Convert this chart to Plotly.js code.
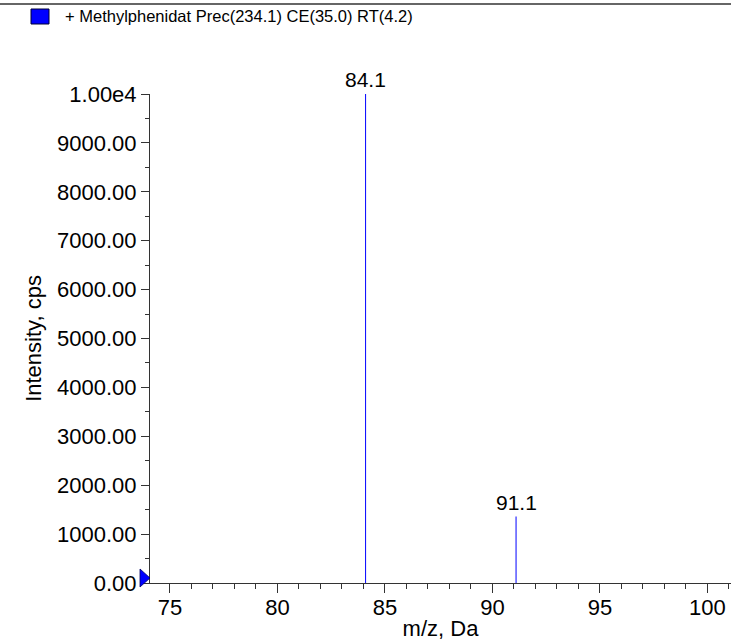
<!DOCTYPE html>
<html>
<head>
<meta charset="utf-8">
<script src="https://cdn.plot.ly/plotly-3.0.1.min.js"></script>
<style>html,body{margin:0;padding:0;background:#fff;}#chart{width:731px;height:641px;}</style>
</head>
<body>
<div id="chart"></div>
<script>
// ---- data ----
var peakMz = [84.1, 91.1];
var peakIntensity = [10000, 1360];
var peakLabels = ['84.1', '91.1'];
var yTickVals = [0, 1000, 2000, 3000, 4000, 5000, 6000, 7000, 8000, 9000, 10000];
var yTickText = ['0.00', '1000.00', '2000.00', '3000.00', '4000.00', '5000.00', '6000.00', '7000.00', '8000.00', '9000.00', '1.00e4'];
var xTickVals = [75, 80, 85, 90, 95, 100];
var xTickText = ['75', '80', '85', '90', '95', '100'];
var xRange = [74.07, 101.1];
var yRange = [0, 10000];
var seriesName = '+ Methylphenidat Prec(234.1) CE(35.0) RT(4.2)';
var xTitle = 'm/z, Da';
var yTitle = 'Intensity, cps';

// ---- build stick spectrum ----
var sx = [], sy = [];
for (var i = 0; i < peakMz.length; i++) {
  sx.push(peakMz[i], peakMz[i], null);
  sy.push(0, peakIntensity[i], null);
}
var font = 'Liberation Sans, Arial, sans-serif';

var trace = {
  type: 'scatter', mode: 'lines', x: sx, y: sy,
  line: {color: '#0000ff', width: 1}, hoverinfo: 'skip', showlegend: false
};

var annotations = peakMz.map(function (m, i) {
  return {x: m, y: peakIntensity[i], xref: 'x', yref: 'y', text: peakLabels[i],
    showarrow: false, xanchor: 'center', yanchor: 'bottom', yshift: 1,
    font: {family: font, size: 21, color: '#000'}};
});
annotations.push({
  x: (63 - 150) / 581, y: (583 - 16.5) / 489, xref: 'paper', yref: 'paper',
  text: seriesName, showarrow: false, xanchor: 'left', yanchor: 'middle',
  font: {family: font, size: 16.5, color: '#000'}
});

var layout = {
  width: 731, height: 641,
  margin: {l: 150, r: 0, t: 94, b: 58, pad: 0},
  paper_bgcolor: '#fff', plot_bgcolor: '#fff',
  showlegend: false,
  font: {family: font, color: '#000'},
  xaxis: {
    range: xRange, tickvals: xTickVals, ticktext: xTickText,
    showgrid: false, zeroline: false, showline: true, linecolor: '#333', linewidth: 1,
    ticks: 'outside', ticklen: 9, tickcolor: '#333', tickwidth: 1,
    tickfont: {family: font, size: 22, color: '#000'}, ticklabelstandoff: -4,
    minor: {dtick: 1, tick0: 75, ticks: 'outside', ticklen: 5, tickcolor: '#333', showgrid: false},
    title: {text: xTitle, font: {family: font, size: 22, color: '#000'}, standoff: 2},
    automargin: false
  },
  yaxis: {
    range: yRange, tickvals: yTickVals, ticktext: yTickText,
    showgrid: false, zeroline: false, showline: true, linecolor: '#333', linewidth: 1,
    ticks: 'outside', ticklen: 8, tickcolor: '#333', tickwidth: 1,
    tickfont: {family: font, size: 22, color: '#000'},
    minor: {dtick: 500, ticks: 'outside', ticklen: 4, tickcolor: '#333', showgrid: false},
    title: {text: yTitle, font: {family: font, size: 22, color: '#000'}, standoff: 9},
    automargin: false
  },
  annotations: annotations,
  shapes: [
    {type: 'line', xref: 'paper', yref: 'paper', x0: -150 / 581, x1: 1,
      y0: (583 - 4) / 489, y1: (583 - 4) / 489, line: {color: '#333', width: 1.5}},
    {type: 'rect', xref: 'paper', yref: 'paper',
      x0: (31 - 150) / 581, x1: (49 - 150) / 581,
      y0: (583 - 24) / 489, y1: (583 - 9) / 489,
      fillcolor: '#0000ff', line: {color: '#000033', width: 1}},
    {type: 'path', xref: 'paper', yref: 'paper', xsizemode: 'pixel', ysizemode: 'pixel',
      xanchor: 0, yanchor: 0, path: 'M-10,14 L0,5 L-10,-4 Z',
      fillcolor: '#0000ff', line: {color: '#000066', width: 0.8}, layer: 'above'}
  ]
};

Plotly.newPlot('chart', [trace], layout, {displayModeBar: false, staticPlot: true});
</script>
</body>
</html>
